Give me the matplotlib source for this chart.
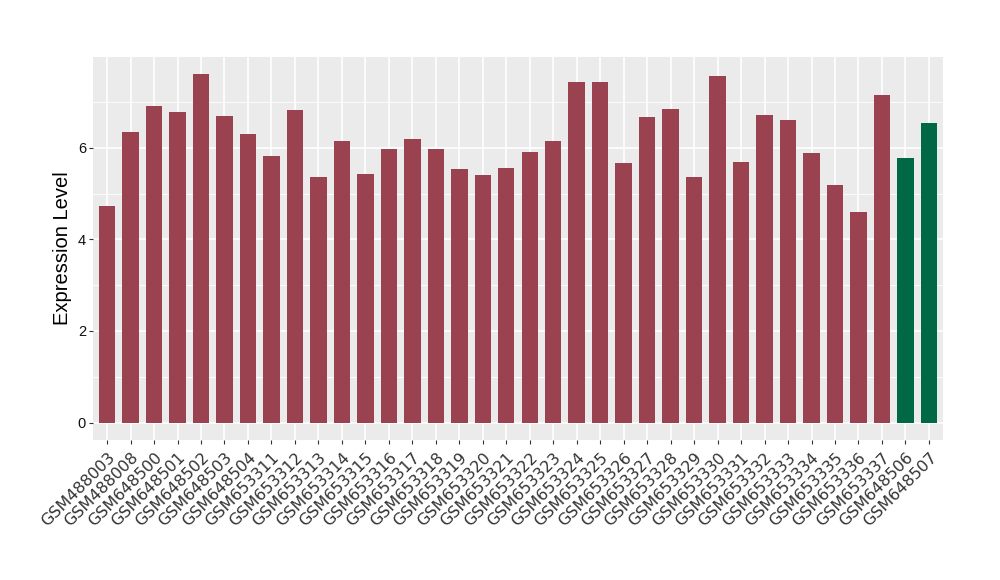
import matplotlib
matplotlib.use("Agg")
import matplotlib.pyplot as plt
import numpy as np

samples = ["GSM488003", "GSM488008", "GSM648500", "GSM648501", "GSM648502", "GSM648503",
           "GSM648504", "GSM653311", "GSM653312", "GSM653313", "GSM653314", "GSM653315",
           "GSM653316", "GSM653317", "GSM653318", "GSM653319", "GSM653320", "GSM653321",
           "GSM653322", "GSM653323", "GSM653324", "GSM653325", "GSM653326", "GSM653327",
           "GSM653328", "GSM653329", "GSM653330", "GSM653331", "GSM653332", "GSM653333",
           "GSM653334", "GSM653335", "GSM653336", "GSM653337", "GSM648506", "GSM648507"]
expression = [4.72, 6.35, 6.92, 6.77, 7.60, 6.70, 6.30, 5.83, 6.83, 5.37, 6.14, 5.42,
              5.98, 6.18, 5.98, 5.53, 5.40, 5.55, 5.90, 6.14, 7.44, 7.44, 5.66, 6.66,
              6.85, 5.37, 7.57, 5.68, 6.72, 6.61, 5.88, 5.18, 4.59, 7.14, 5.77, 6.55]
group = ["case"] * 34 + ["control"] * 2

RED = "#9B4251"
GREEN = "#006844"
colors = [RED if g == "case" else GREEN for g in group]

fig = plt.figure(figsize=(10, 5.8), dpi=100)
ax = fig.add_axes([0.093, 0.2414, 0.850, 0.6603])
ax.set_facecolor("#EBEBEB")

x = np.arange(len(samples))
ax.bar(x, expression, width=0.7, color=colors, zorder=3)

ax.set_xlim(-0.6, len(samples) - 0.4)
ax.set_ylim(-0.38, 7.98)
ax.set_yticks([0, 2, 4, 6])
ax.set_yticks([1, 3, 5, 7], minor=True)
ax.set_xticks(x)
ax.set_xticklabels(samples, rotation=45, ha="right", va="top",
                   rotation_mode="anchor", fontsize=11.5, color="#111111")
ax.tick_params(axis="y", labelsize=10.5, colors="#333333", length=3, pad=2,
               labelcolor="#111111")
ax.tick_params(axis="x", colors="#333333", length=3, pad=4)
ax.tick_params(axis="y", which="minor", length=0)

ax.grid(which="major", color="white", linewidth=1.2, zorder=0)
ax.grid(which="minor", axis="y", color="white", linewidth=0.6, zorder=0)
ax.set_axisbelow(True)
for s in ax.spines.values():
    s.set_visible(False)

ax.set_ylabel("Expression Level", fontsize=14.5, family="Liberation Sans", labelpad=4)
for lab in ax.get_yticklabels():
    lab.set_family("Liberation Sans")

fig.savefig("out.png", dpi=100)
